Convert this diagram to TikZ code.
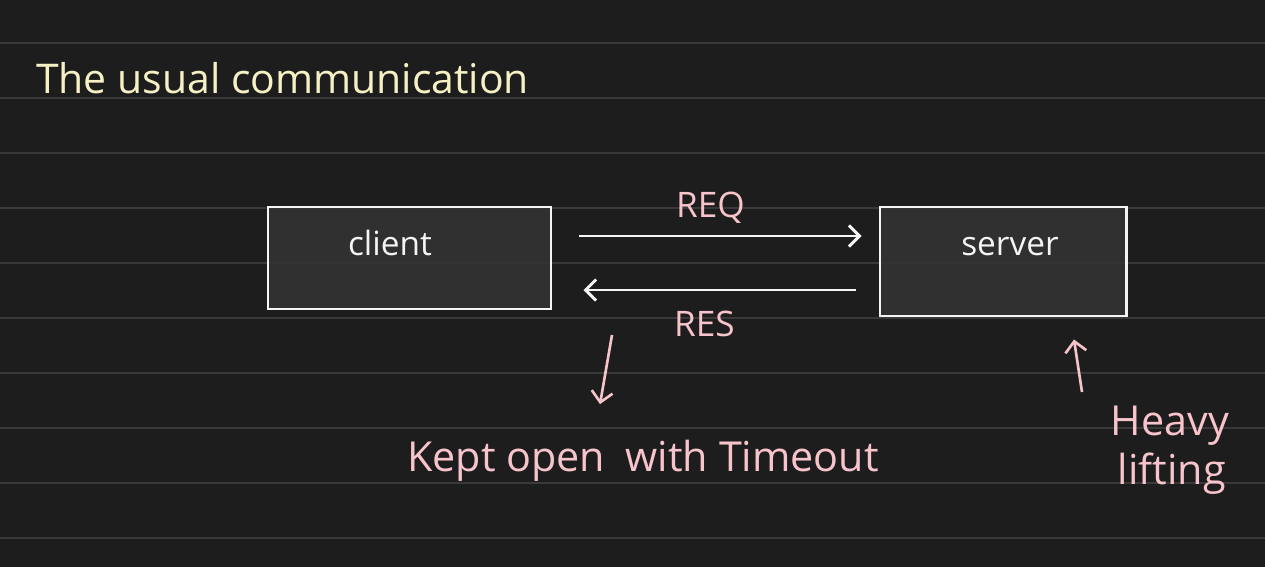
\documentclass[tikz,border=0pt]{standalone}
\usepackage{fontspec}
\setmainfont{Open Sans}
\usetikzlibrary{arrows.meta}
\definecolor{board}{HTML}{1E1D1E}
\definecolor{ruling}{HTML}{3A393A}
\definecolor{boxfill}{HTML}{353435}
\definecolor{chalk}{HTML}{F4F4F4}
\definecolor{pinkchalk}{HTML}{F6C4CA}
\definecolor{yellowchalk}{HTML}{F5F1C4}

\begin{document}
\begin{tikzpicture}
\tikzstyle{rule}=[draw=ruling, line width=1.2pt]
\tikzstyle{box}=[draw=chalk, fill=boxfill, fill opacity=0.85, line width=1.7pt, shape=rectangle, inner sep=0pt]
\tikzstyle{wtxt}=[text=chalk, font=\fontsize{19}{22}\selectfont]
\tikzstyle{ptxt}=[text=pinkchalk, font=\fontsize{20}{25}\selectfont]
\tikzstyle{bigptxt}=[text=pinkchalk, font=\fontsize{23.5}{26}\selectfont]
\tikzstyle{ytxt}=[text=yellowchalk, font=\fontsize{23.3}{26}\selectfont]
\tikzstyle{warrow}=[draw=chalk, line width=1.7pt, -{Straight Barb[length=6pt,width=12pt]}]
\tikzstyle{parrow}=[draw=pinkchalk, line width=1.5pt, -{Straight Barb[length=6pt,width=12pt]}]

% page and ruled lines
\fill[board] (0,0) rectangle (25.3,-11.34);
\useasboundingbox (0,0) rectangle (25.3,-11.34);
\foreach \k in {0,...,9}
  \draw[rule] (0,-0.86-1.1*\k) -- (25.3,-0.86-1.1*\k);

\draw (0.6,-1.56) node[ytxt, anchor=west] (title) {The usual communication};

% client and server
\draw (8.19,-5.16) node[box, minimum width=5.66cm, minimum height=2.04cm] (client) {};
\draw (20.06,-5.23) node[box, minimum width=4.92cm, minimum height=2.18cm] (server) {};
\draw (7.8,-4.86) node[wtxt] (clientname) {client};
\draw (20.2,-4.94) node[wtxt] (servername) {server};

\draw[warrow] ([shift={(0.54,0.44)}]client.east) -- ([shift={(-0.34,0.51)}]server.west)
  node[ptxt, midway, above=3pt, xshift=-0.2cm] (req) {REQ};
\draw[warrow] ([shift={(-0.46,-0.57)}]server.west) -- ([shift={(0.62,-0.64)}]client.east)
  node[ptxt, midway, below=8pt, xshift=-0.3cm] (res) {RES};

% notes
\draw (12.86,-9.22) node[bigptxt] (kept) {Kept open\enspace with Timeout};
\draw (23.4,-9.0) node[bigptxt, align=left] (heavy) {Heavy\\[2pt]\hspace{4pt}lifting};

\coordinate (keptfrom) at (12.24,-6.7);
\draw[parrow] (keptfrom) -- ([shift={(-0.86,0.6)}]kept.north);
\coordinate (heavyfrom) at (21.64,-7.84);
\draw[parrow] (heavyfrom) -- ([shift={(1.42,-0.44)}]server.south);

\end{tikzpicture}
\end{document}
